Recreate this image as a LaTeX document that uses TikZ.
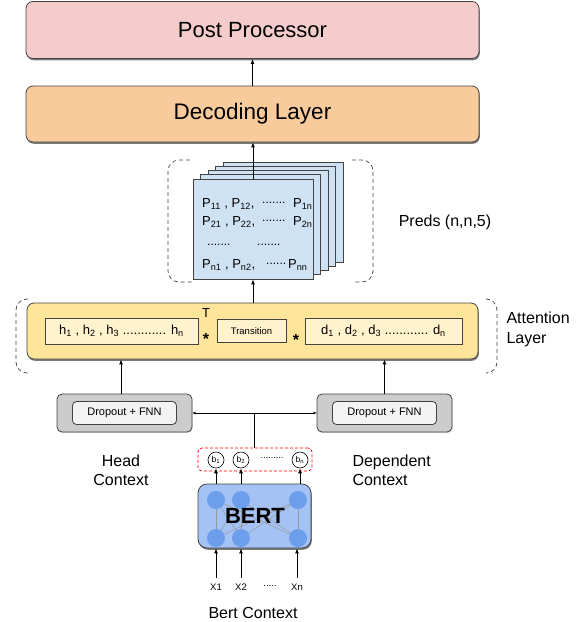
\documentclass[tikz,border=0pt]{standalone}
\usepackage{fontspec}
\setmainfont{Liberation Sans}
\usetikzlibrary{arrows.meta,shadows,calc}
\definecolor{pinkf}{HTML}{F4CCCC}
\definecolor{orangef}{HTML}{F9CB9C}
\definecolor{yellowf}{HTML}{FFE599}
\definecolor{paleyellow}{HTML}{FFF2CC}
\definecolor{bluef}{HTML}{CFE2F3}
\definecolor{grayf}{HTML}{CCCCCC}
\definecolor{lightgrayf}{HTML}{F3F3F3}
\definecolor{bertf}{HTML}{A4C2F4}
\definecolor{neuronf}{HTML}{6D9EEB}
\definecolor{edgec}{HTML}{434343}
\begin{document}
\begin{tikzpicture}[x=1pt,y=-1pt,
  bigbox/.style={draw=edgec, line width=0.8pt, rounded corners=7pt, inner sep=0pt,
    drop shadow={shadow xshift=0.8pt, shadow yshift=-1.8pt, fill=black!65, opacity=0.8}},
  sheet/.style={draw=edgec, line width=0.7pt, fill=bluef, minimum width=120pt, minimum height=100pt, inner sep=0pt},
  inbox/.style={draw=edgec, line width=0.8pt, inner sep=0pt},
  outergray/.style={draw=edgec, line width=0.8pt, fill=grayf, rounded corners=5pt, minimum width=135pt, minimum height=38pt, inner sep=0pt},
  innergray/.style={draw=edgec, line width=0.8pt, fill=lightgrayf, rounded corners=4pt, minimum width=104pt, minimum height=23pt, inner sep=0pt, font=\fontsize{11}{11}\selectfont},
  bcirc/.style={circle, draw=black, line width=0.6pt, fill=white, minimum size=16pt, inner sep=0pt, font=\fontsize{8.5}{8.5}\selectfont},
  neuron/.style={circle, fill=neuronf, minimum size=18pt, inner sep=0pt},
  arr/.style={-{Latex[length=5pt,width=4pt]}, line width=0.9pt, black},
  bracket/.style={draw=edgec, line width=0.7pt, dash pattern=on 4pt off 3pt, rounded corners=11pt},
  ptext/.style={anchor=west, inner sep=0pt, font=\fontsize{13}{13}\selectfont},
  dotstext/.style={anchor=west, inner sep=0pt, font=\fontsize{12}{12}\selectfont},
  label/.style={font=\fontsize{16}{19}\selectfont}
]
\useasboundingbox (0,0) rectangle (579,622);

% top boxes
\node[bigbox, fill=pinkf, minimum width=453pt, minimum height=57pt, font=\fontsize{22}{22}\selectfont] (post) at (252.5,30) {Post Processor};
\node[bigbox, fill=orangef, minimum width=453pt, minimum height=56pt, font=\fontsize{22.5}{22.5}\selectfont] (dec) at (252.5,114) {Decoding Layer};
\draw[arr] (dec.north) -- (post.south);

% preds stack
\draw[bracket] (190,160) -- (168,160) -- (168,282) -- (192,282);
\draw[bracket] (352,160) -- (373,160) -- (373,282) -- (355,282);
\foreach \i in {4,3,2,1} {
  \node[sheet] (sheet\i) at ($(253,229)+(7.5*\i,-4.25*\i)$) {};
}
\node[sheet] (sheet0) at (253,229) {};
\draw[arr] (sheet0.north) -- (sheet0.north |- dec.south);

\node[ptext] (r1a) at (202,204) {P\textsubscript{11} , P\textsubscript{12},};
\node[dotstext] (r1b) at (262,203) {.......};
\node[ptext] (r1c) at (293,204) {P\textsubscript{1n}};
\node[ptext] (r2a) at (202,222) {P\textsubscript{21} , P\textsubscript{22},};
\node[dotstext] (r2b) at (262,221) {.......};
\node[ptext] (r2c) at (293,222) {P\textsubscript{2n}};
\node[dotstext] (r3a) at (207,245) {.......};
\node[dotstext] (r3b) at (257,245) {.......};
\node[ptext] (r4a) at (202,265) {P\textsubscript{n1} , P\textsubscript{n2},};
\node[dotstext] (r4b) at (266,264) {......};
\node[ptext] (r4c) at (288,265) {P\textsubscript{nn}};

\node[label] (preds) at (445,222) {Preds (n,n,5)};

% attention layer
\draw[bracket] (28,299) -- (16,299) -- (16,373) -- (28,373);
\draw[bracket] (486,299) -- (497,299) -- (497,373) -- (486,373);
\node[bigbox, fill=yellowf, minimum width=451pt, minimum height=56pt] (att) at (252.5,331) {};
\node[inbox, fill=paleyellow, minimum width=153pt, minimum height=26pt, font=\fontsize{13}{13}\selectfont] (hbox) at (121.5,331)
  {h\textsubscript{1} , h\textsubscript{2} , h\textsubscript{3} ............ h\textsubscript{n}};
\node[inbox, fill=paleyellow, minimum width=69pt, minimum height=23pt, font=\fontsize{9.5}{9.5}\selectfont] (trans) at (251.5,331) {Transition};
\node[inbox, fill=paleyellow, minimum width=157pt, minimum height=26pt, font=\fontsize{13}{13}\selectfont] (dbox) at (383.5,331)
  {d\textsubscript{1} , d\textsubscript{2} , d\textsubscript{3} ............ d\textsubscript{n}};
\node[inner sep=0pt, font=\fontsize{13}{13}\selectfont] (tsym) at (206,313) {T};
\node[inner sep=0pt, font=\fontsize{16}{16}\selectfont\bfseries] (star1) at (206,339) {*};
\node[inner sep=0pt, font=\fontsize{16}{16}\selectfont\bfseries] (star2) at (296,340) {*};
\node[label, anchor=west, align=left, font=\fontsize{16}{20}\selectfont] (attlab) at (503,329) {Attention\\Layer};
\draw[arr] (att.north -| sheet0.south) -- (sheet0.south);

% dropout boxes
\node[outergray, drop shadow={shadow xshift=0.6pt, shadow yshift=-1pt, fill=black!30}] (dlo) at (124.5,413) {};
\node[innergray] (dli) at (124.5,413) {Dropout + FNN};
\node[outergray, drop shadow={shadow xshift=0.6pt, shadow yshift=-1pt, fill=black!30}] (dro) at (384.5,413) {};
\node[innergray] (dri) at (384.5,413) {Dropout + FNN};
\draw[arr] ([xshift=-3.5pt]dlo.north) -- ([xshift=-3.5pt]dlo.north |- att.south);
\draw[arr] (dro.north) -- (dro.north |- att.south);

% b vector
\node[draw=red, line width=0.7pt, dash pattern=on 3pt off 2pt, rounded corners=4pt, minimum width=114pt, minimum height=23pt, inner sep=0pt] (bvec) at (255,459.5) {};
\node[bcirc] (b1) at (216,460) {b\textsubscript{1}};
\node[bcirc] (b2) at (241,460) {b\textsubscript{2}};
\node[bcirc] (bn) at (300,460) {b\textsubscript{n}};
\node[inner sep=0pt, font=\fontsize{9}{9}\selectfont] (bdots) at (272,458) {.........};
\draw[line width=0.8pt] ([xshift=-1pt]bvec.north) -- ([xshift=-1pt]bvec.north |- dlo.east);
\draw[{Latex[length=3pt,width=3pt]}-{Latex[length=3pt,width=3pt]}, line width=0.7pt] (dlo.east) -- (dro.west);

\node[label, align=center] (head) at (121,470) {Head\\Context};
\node[label, align=left, anchor=west] (dep) at (349,470) {Dependent\\Context};

% BERT
\node[bigbox, fill=bertf, minimum width=113pt, minimum height=64pt, rounded corners=9pt] (bert) at (254.5,516) {};
\coordinate (t1) at (216,500);
\coordinate (t2) at (241,500);
\coordinate (t3) at (298,500);
\coordinate (u1) at (216,538);
\coordinate (u2) at (241,538);
\coordinate (u3) at (298,538);
\foreach \a in {t1,t2,t3} {
  \foreach \b in {u1,u2,u3} {
    \draw[gray!80, line width=0.5pt] (\a) -- (\b);
  }
}
\foreach \a in {t1,t2,t3,u1,u2,u3} {
  \node[neuron] (n\a) at (\a) {};
}
\node[inner sep=0pt, font=\fontsize{22}{22}\selectfont\bfseries] (bertlab) at (255,516) {BERT};
\draw[arr] (b1.south |- bert.north) -- (b1.south);
\draw[arr] (b2.south |- bert.north) -- (b2.south);
\draw[arr] (bn.south |- bert.north) -- (bn.south);

\node[font=\fontsize{9.5}{9.5}\selectfont] (x1) at (216,587) {X1};
\node[font=\fontsize{9.5}{9.5}\selectfont] (x2) at (241,587) {X2};
\node[font=\fontsize{9.5}{9.5}\selectfont] (xd) at (270,586) {.....};
\node[font=\fontsize{9.5}{9.5}\selectfont] (xn) at (297,587) {Xn};
\draw[arr, shorten <=2pt] (x1.north) -- (x1.north |- bert.south);
\draw[arr, shorten <=2pt] (x2.north) -- (x2.north |- bert.south);
\draw[arr, shorten <=2pt] (xn.north) -- (xn.north |- bert.south);

\node[label] (bertctx) at (253,613) {Bert Context};
\end{tikzpicture}
\end{document}
